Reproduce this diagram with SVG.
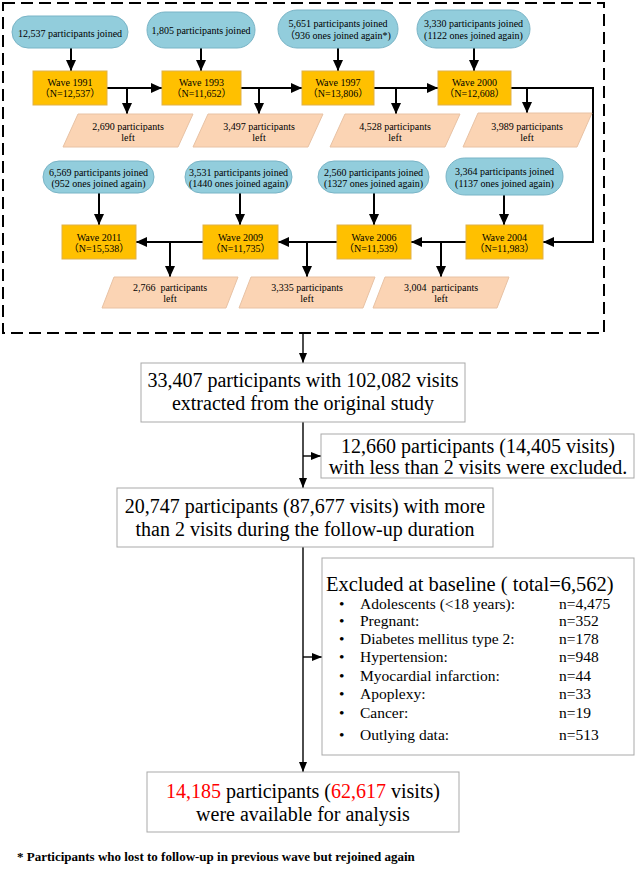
<svg xmlns="http://www.w3.org/2000/svg" width="636" height="869" viewBox="0 0 636 869">
<defs>
<style>
text{font-family:"Liberation Serif","Noto Sans CJK SC",serif;fill:#000}
.s{font-size:10px;text-anchor:middle}
.pre{white-space:pre}
.oval{fill:#92CDDC;stroke:#79B4C6;stroke-width:1}
.wave{fill:#FFC000;stroke:#E0B14A;stroke-width:1}
.left{fill:#FBD4B4;stroke:#E8C2A4;stroke-width:1}
.box{fill:#fff;stroke:#A9A9A9;stroke-width:1}
.big{font-size:20px;text-anchor:middle}
.it{font-size:15.5px}
.c1{fill:none;stroke:#000;stroke-width:2;marker-end:url(#ah)}
.c2{fill:none;stroke:#000;stroke-width:1.4;marker-end:url(#ah2)}
.red{fill:#FF0000}
</style>
<marker id="ah" markerUnits="userSpaceOnUse" markerWidth="12" markerHeight="10" refX="11" refY="5" orient="auto">
<path d="M0,0 L11,5 L0,10 z" fill="#000"/>
</marker>
<marker id="ah2" markerUnits="userSpaceOnUse" markerWidth="11" markerHeight="8" refX="10" refY="4" orient="auto">
<path d="M0,0 L10,4 L0,8 z" fill="#000"/>
</marker>
</defs>

<rect id="frame" x="3" y="3" width="601" height="330" fill="none" stroke="#000" stroke-width="2" stroke-dasharray="12 6"/>

<g id="connectors">
<path class="c1" d="M71,48 V71"/>
<path class="c1" d="M201,48 V71"/>
<path class="c1" d="M338,48 V71"/>
<path class="c1" d="M474,48 V71"/>
<path class="c1" d="M107,88 H162"/>
<path class="c1" d="M127,88 V114"/>
<path class="c1" d="M241,88 H302"/>
<path class="c1" d="M259,88 V114"/>
<path class="c1" d="M374,88 H438"/>
<path class="c1" d="M396,88 V114"/>
<path class="c1" d="M511,88 H593 V242 H543"/>
<path class="c1" d="M527,88 V113"/>
<path class="c1" d="M99,193 V225"/>
<path class="c1" d="M240,193 V225"/>
<path class="c1" d="M374,193 V225"/>
<path class="c1" d="M504,195 V225"/>
<path class="c1" d="M466,242 H411"/>
<path class="c1" d="M441,242 V277"/>
<path class="c1" d="M337,242 H278"/>
<path class="c1" d="M307,242 V277"/>
<path class="c1" d="M203,242 H136"/>
<path class="c1" d="M170,242 V277"/>
<path class="c2" d="M303,333 V363"/>
<path class="c2" d="M303,422 V488"/>
<path class="c2" d="M303,456 H321"/>
<path class="c2" d="M303,547 V772"/>
<path class="c2" d="M303,657 H322"/>
</g>

<g id="join1991"><rect class="oval" x="12" y="16" width="116" height="32" rx="16"/><text class="s" x="70" y="36.5">12,537 participants joined</text></g>
<g id="join1993"><rect class="oval" x="147" y="12" width="108" height="36" rx="18"/><text class="s" x="201" y="33.5">1,805 participants joined</text></g>
<g id="join1997"><rect class="oval" x="278" y="10" width="120" height="38" rx="19"/><text class="s" x="338" y="26.5">5,651 participants joined</text><text class="s" x="338" y="38.5">（936 ones joined again*)</text></g>
<g id="join2000"><rect class="oval" x="417" y="10" width="113" height="38" rx="19"/><text class="s" x="473.5" y="26.5">3,330 participants joined</text><text class="s" x="473.5" y="38.5">(1122 ones joined again)</text></g>

<g id="wave1991"><rect class="wave" x="33" y="71" width="74" height="34"/><text class="s" x="70" y="85.5">Wave 1991</text><text class="s" x="70" y="97">（N=12,537）</text></g>
<g id="wave1993"><rect class="wave" x="162" y="71" width="79" height="34"/><text class="s" x="201.5" y="85.5">Wave 1993</text><text class="s" x="201.5" y="97">（N=11,652）</text></g>
<g id="wave1997"><rect class="wave" x="302" y="71" width="72" height="34"/><text class="s" x="338" y="85.5">Wave 1997</text><text class="s" x="338" y="97">（N=13,806）</text></g>
<g id="wave2000"><rect class="wave" x="438" y="71" width="73" height="34"/><text class="s" x="474.5" y="85.5">Wave 2000</text><text class="s" x="474.5" y="97">（N=12,608）</text></g>

<g id="left1991"><polygon class="left" points="78,114 193,114 178,147 63,147"/><text class="s" x="128" y="129.5">2,690 participants</text><text class="s" x="128" y="140.5">left</text></g>
<g id="left1993"><polygon class="left" points="208,114 323,114 308,147 193,147"/><text class="s" x="259" y="129.5">3,497 participants</text><text class="s" x="259" y="140.5">left</text></g>
<g id="left1997"><polygon class="left" points="345,114 460,114 445,147 330,147"/><text class="s" x="395" y="129.5">4,528 participants</text><text class="s" x="395" y="140.5">left</text></g>
<g id="left2000"><polygon class="left" points="478,113 592,113 577,147 463,147"/><text class="s" x="527" y="129.5">3,989 participants</text><text class="s" x="527" y="140.5">left</text></g>

<g id="join2011"><rect class="oval" x="43" y="161" width="111" height="32" rx="16"/><text class="s" x="98.5" y="175.5">6,569 participants joined</text><text class="s" x="98.5" y="186.5">(952 ones joined again)</text></g>
<g id="join2009"><rect class="oval" x="185" y="161" width="107" height="32" rx="16"/><text class="s" x="238.5" y="175.5">3,531 participants joined</text><text class="s" x="238.5" y="186.5">(1440 ones joined again)</text></g>
<g id="join2006"><rect class="oval" x="318" y="161" width="111" height="32" rx="16"/><text class="s" x="373.5" y="175.5">2,560 participants joined</text><text class="s" x="373.5" y="186.5">(1327 ones joined again)</text></g>
<g id="join2004"><rect class="oval" x="446" y="158" width="117" height="37" rx="18.5"/><text class="s" x="504.5" y="174.5">3,364 participants joined</text><text class="s" x="504.5" y="186.5">(1137 ones joined again)</text></g>

<g id="wave2011"><rect class="wave" x="62" y="225" width="74" height="34"/><text class="s" x="99" y="240.5">Wave 2011</text><text class="s" x="99" y="252">（N=15,538）</text></g>
<g id="wave2009"><rect class="wave" x="203" y="225" width="75" height="34"/><text class="s" x="240.5" y="240.5">Wave 2009</text><text class="s" x="240.5" y="252">（N=11,735）</text></g>
<g id="wave2006"><rect class="wave" x="337" y="225" width="74" height="34"/><text class="s" x="374" y="240.5">Wave 2006</text><text class="s" x="374" y="252">（N=11,539）</text></g>
<g id="wave2004"><rect class="wave" x="466" y="225" width="77" height="34"/><text class="s" x="504.5" y="240.5">Wave 2004</text><text class="s" x="504.5" y="252">（N=11,983）</text></g>

<g id="left2009"><polygon class="left" points="114,277 238,277 226,308 102,308"/><text class="s pre" x="170" y="290.5">2,766  participants</text><text class="s" x="170" y="301.5">left</text></g>
<g id="left2006"><polygon class="left" points="251,277 375,277 363,308 239,308"/><text class="s" x="307" y="290.5">3,335 participants</text><text class="s" x="307" y="301.5">left</text></g>
<g id="left2004"><polygon class="left" points="385,277 509,277 497,308 373,308"/><text class="s pre" x="441" y="290.5">3,004  participants</text><text class="s" x="441" y="301.5">left</text></g>

<g id="extracted"><rect class="box" x="141" y="363" width="324" height="59"/><text class="big" x="303" y="387">33,407 participants with 102,082 visits</text><text class="big" x="303" y="410">extracted from the original study</text></g>
<g id="excluded1"><rect class="box" x="321" y="434" width="313" height="44"/><text class="big" x="478" y="453">12,660 participants (14,405 visits)</text><text class="big" x="478" y="474">with less than 2 visits were excluded.</text></g>
<g id="morethan2"><rect class="box" x="117" y="488" width="376" height="59"/><text class="big" x="305" y="513">20,747 participants (87,677 visits) with more</text><text class="big" x="305" y="536">than 2 visits during the follow-up duration</text></g>

<g id="baseline">
<rect class="box" x="322" y="558" width="312" height="197"/>
<text x="326" y="591" style="font-size:20.5px">Excluded at baseline ( total=6,562)</text>
<g class="it">
<text x="339" y="608.5">•</text><text x="360" y="608.5">Adolescents (&lt;18 years):</text><text x="559" y="608.5">n=4,475</text>
<text x="339" y="626">•</text><text x="360" y="626">Pregnant:</text><text x="559" y="626">n=352</text>
<text x="339" y="643.5">•</text><text x="360" y="643.5">Diabetes mellitus type 2:</text><text x="559" y="643.5">n=178</text>
<text x="339" y="662">•</text><text x="360" y="662">Hypertension:</text><text x="559" y="662">n=948</text>
<text x="339" y="680.5">•</text><text x="360" y="680.5">Myocardial infarction:</text><text x="559" y="680.5">n=44</text>
<text x="339" y="699">•</text><text x="360" y="699">Apoplexy:</text><text x="559" y="699">n=33</text>
<text x="339" y="717.5">•</text><text x="360" y="717.5">Cancer:</text><text x="559" y="717.5">n=19</text>
<text x="339" y="740">•</text><text x="360" y="740">Outlying data:</text><text x="559" y="740">n=513</text>
</g>
</g>

<g id="final"><rect class="box" x="147" y="772" width="312" height="60"/><text class="big" x="303" y="798"><tspan class="red">14,185</tspan> participants (<tspan class="red">62,617</tspan> visits)</text><text class="big" x="303" y="821">were available for analysis</text></g>

<text id="footnote" x="17" y="861" style="font-size:13px;font-weight:bold">* Participants who lost to follow-up in previous wave but rejoined again</text>
</svg>
